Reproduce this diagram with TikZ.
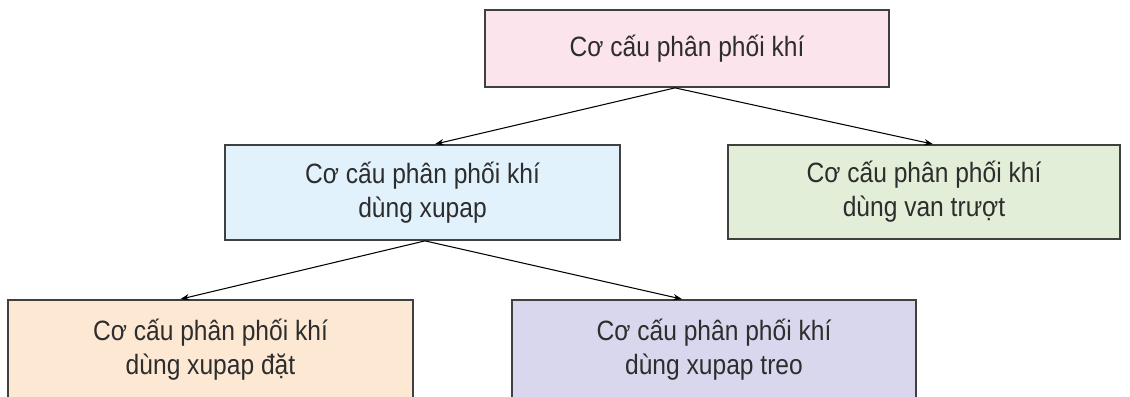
\documentclass[tikz,border=0pt]{standalone}
\usepackage{fontspec}
\setmainfont{Liberation Sans}[FakeStretch=0.88]
\usepackage{tikz}
\usetikzlibrary{arrows.meta}

\definecolor{boxpink}{RGB}{252,228,236}
\definecolor{boxblue}{RGB}{226,242,252}
\definecolor{boxgreen}{RGB}{226,238,216}
\definecolor{boxorange}{RGB}{253,232,212}
\definecolor{boxpurple}{RGB}{217,215,238}
\definecolor{textgrey}{RGB}{45,45,45}

\begin{document}
\begin{tikzpicture}[x=0.02cm, y=-0.02cm,
    kbox/.style={draw=black!75, line width=1pt, text=textgrey, align=center,
      inner sep=0pt, font=\fontsize{15.9}{19.3}\selectfont},
    link/.style={line width=0.6pt, -{Stealth[length=5pt,width=3.6pt]}}]
  \useasboundingbox (0,0) rectangle (1130,396);
  \clip (0,0) rectangle (1130,396);
  \node[kbox, fill=boxpink, minimum width=8.08cm, minimum height=1.54cm]
    (top) at (687,48.5) {Cơ cấu phân phối khí};
  \node[kbox, fill=boxblue, minimum width=7.9cm, minimum height=1.9cm]
    (xupap) at (422.5,192.5) {Cơ cấu phân phối khí\\dùng xupap};
  \node[kbox, fill=boxgreen, minimum width=7.84cm, minimum height=1.88cm]
    (van) at (924,192) {Cơ cấu phân phối khí\\dùng van trượt};
  \node[kbox, fill=boxorange, minimum width=8.1cm, minimum height=2cm]
    (dat) at (210.5,350) {Cơ cấu phân phối khí\\dùng xupap đặt};
  \node[kbox, fill=boxpurple, minimum width=8.08cm, minimum height=2cm]
    (treo) at (714,350) {Cơ cấu phân phối khí\\dùng xupap treo};
  % arrows
  \draw[link] ([xshift=-0.24cm]top.south) -- ([xshift=0.25cm]xupap.north);
  \draw[link] ([xshift=-0.24cm]top.south) -- ([xshift=0.18cm]van.north);
  \draw[link] ([xshift=0.05cm]xupap.south) -- ([xshift=-0.6cm]dat.north);
  \draw[link] ([xshift=0.05cm]xupap.south) -- ([xshift=-0.64cm]treo.north);
\end{tikzpicture}
\end{document}
